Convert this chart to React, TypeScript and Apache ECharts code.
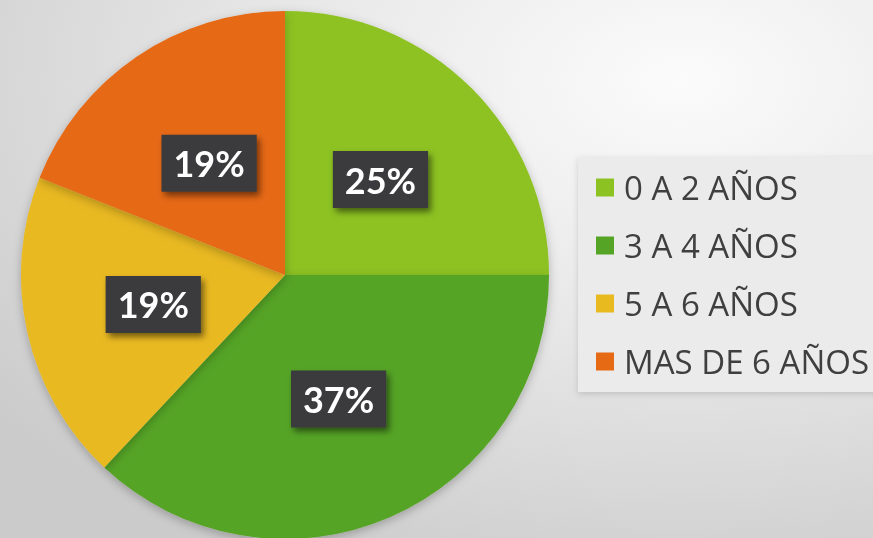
import React, { useEffect, useRef } from "react";
import * as echarts from "echarts";

const categories = ["0 A 2 AÑOS", "3 A 4 AÑOS", "5 A 6 AÑOS", "MAS DE 6 AÑOS"];
const values = [25, 37, 19, 19];
const colors = ["#8DC223", "#55A425", "#E9B920", "#E66914"];

export default function App() {
  const ref = useRef<HTMLDivElement>(null);
  useEffect(() => {
    if (!ref.current) return;
    const chart = echarts.init(ref.current, undefined, { renderer: "svg" });
    chart.setOption({
      animation: false,
      backgroundColor: {
        type: "radial",
        x: 0.78,
        y: 0.15,
        r: 1.0,
        colorStops: [
          { offset: 0, color: "#fbfbfb" },
          { offset: 0.5, color: "#e6e6e6" },
          { offset: 1, color: "#cbcbcb" },
        ],
      },
      color: colors,
      legend: {
        orient: "vertical",
        left: 578,
        top: 157,
        padding: [14, 20, 14, 18],
        backgroundColor: "#ebebeb",
        shadowColor: "rgba(0,0,0,0.15)",
        shadowBlur: 6,
        shadowOffsetY: 2,
        icon: "rect",
        itemWidth: 18,
        itemHeight: 18,
        itemGap: 25,
        textStyle: {
          fontFamily: "Open Sans",
          fontSize: 33,
          lineHeight: 30,
          color: "#3f3f3f",
          padding: [0, 0, 0, 5],
        },
        data: categories,
      },
      series: [
        {
          type: "pie",
          center: [285, 275],
          radius: [0, 264],
          startAngle: 90,
          clockwise: true,
          itemStyle: {
            shadowColor: "rgba(0,0,0,0.25)",
            shadowBlur: 10,
            shadowOffsetY: 3,
          },
          label: {
            show: true,
            position: "inside",
            formatter: (p: any) => p.value + "%",
            color: "#ffffff",
            fontFamily: "Lato",
            fontWeight: "bold",
            fontSize: 36,
            lineHeight: 37,
            backgroundColor: "#3a3a3d",
            padding: [10, 12, 10, 12],
            shadowColor: "rgba(0,0,0,0.5)",
            shadowBlur: 6,
            shadowOffsetX: 3,
            shadowOffsetY: 4,
          },
          labelLine: { show: false },
          emphasis: { disabled: true },
          data: categories.map((c, i) => ({ name: c, value: values[i] })),
        },
      ],
    });
    return () => chart.dispose();
  }, []);
  return (
    <div
      ref={ref}
      style={{ position: "fixed", left: 0, top: 0, width: 873, height: 538 }}
    />
  );
}
